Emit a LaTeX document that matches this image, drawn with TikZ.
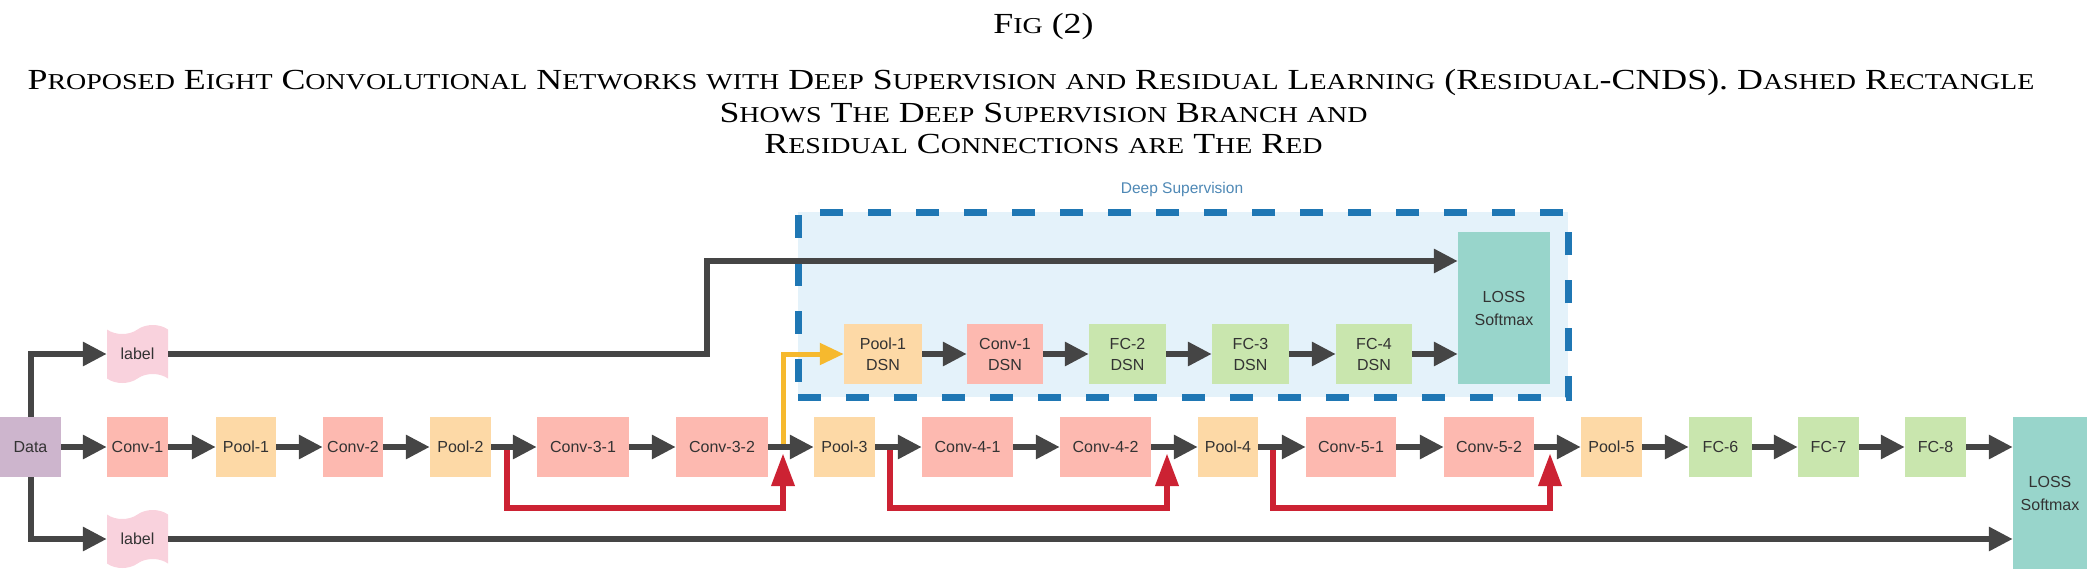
\documentclass[tikz,border=0pt]{standalone}
\usepackage{graphicx}
\usepackage{fontspec}
\setmainfont{Liberation Serif}
\setsansfont{Liberation Sans}
\newfontfamily\titlesc{Liberation Serif}[Scale=0.78]
\usetikzlibrary{arrows.meta,shapes.symbols}
\newcommand\scx[1]{{\titlesc #1}}
\newcommand\ttlbox[1]{\scalebox{1.28}[1.04]{#1}}
\definecolor{convc}{HTML}{FDB9B0}
\definecolor{poolc}{HTML}{FDD9A6}
\definecolor{fcc}{HTML}{C9E6AE}
\definecolor{lossc}{HTML}{98D5CB}
\definecolor{datac}{HTML}{CDB5CD}
\definecolor{labelc}{HTML}{F9D2DD}
\definecolor{dsfill}{HTML}{E4F2FA}
\definecolor{dsdash}{HTML}{1F77B4}
\definecolor{arrgray}{HTML}{454545}
\definecolor{resred}{HTML}{CC2233}
\definecolor{yelc}{HTML}{F6B92E}
\definecolor{dstext}{HTML}{4E88B5}
\definecolor{txt}{HTML}{333333}
\begin{document}
\begin{tikzpicture}[x=1pt,y=-1pt,
  box/.style={inner sep=0pt, minimum height=60pt, font=\sffamily\fontsize{16}{21}\selectfont, text=txt, align=center},
  conv/.style={box, fill=convc},
  pool/.style={box, fill=poolc},
  fc/.style={box, fill=fcc},
  loss/.style={box, fill=lossc, minimum height=152pt, font=\sffamily\fontsize{16}{23}\selectfont},
  lab/.style={tape, fill=labelc, draw=none, inner sep=0pt, minimum width=61pt, minimum height=58pt, tape bend height=9pt, font=\sffamily\fontsize{16}{21}\selectfont, text=txt},
  arr/.style={draw=arrgray, line width=6pt, -{Triangle[length=24pt,width=23pt]}},
  res/.style={draw=resred, line width=6.5pt, -{Triangle[length=33pt,width=22pt]}},
  yel/.style={draw=yelc, line width=5pt, -{Triangle[length=24pt,width=21pt]}},
  ttl/.style={inner sep=0pt, font=\fontsize{28}{30}\selectfont, text=black},
  dsbox/.style={fill=dsfill, draw=dsdash, line width=7pt, dash pattern=on 23pt off 25pt, inner sep=0pt}
]
\useasboundingbox (0,0) rectangle (2087,579);

% title
\node[ttl] (t0) at (1043.5,26) {\ttlbox{F\scx{IG} (2)}};
\node[ttl] (t1) at (1031,82) {\ttlbox{P\scx{ROPOSED} E\scx{IGHT} C\scx{ONVOLUTIONAL} N\scx{ETWORKS} \scx{WITH} D\scx{EEP} S\scx{UPERVISION} \scx{AND} R\scx{ESIDUAL} L\scx{EARNING} (R\scx{ESIDUAL}-CNDS). D\scx{ASHED} R\scx{ECTANGLE}}};
\node[ttl] (t2) at (1043.5,113) {\ttlbox{S\scx{HOWS} T\scx{HE} D\scx{EEP} S\scx{UPERVISION} B\scx{RANCH} \scx{AND}}};
\node[ttl] (t3) at (1043.5,144) {\ttlbox{R\scx{ESIDUAL} C\scx{ONNECTIONS} \scx{ARE} T\scx{HE} R\scx{ED}}};

% deep supervision box
\node[dsbox, minimum width=770pt, minimum height=185pt] (ds) at (1183,304.5) {};
\node[font=\sffamily\fontsize{15.5}{18}\selectfont, text=dstext, inner sep=0pt] (dst) at (1182,189) {Deep Supervision};

% main row
\node[box, fill=datac, minimum width=61pt] (data) at (30.5,447) {Data};
\node[conv, minimum width=61pt] (c1) at (137.5,447) {Conv-1};
\node[pool, minimum width=60pt] (p1) at (246,447) {Pool-1};
\node[conv, minimum width=60pt] (c2) at (353,447) {Conv-2};
\node[pool, minimum width=61pt] (p2) at (460.5,447) {Pool-2};
\node[conv, minimum width=92pt] (c31) at (583,447) {Conv-3-1};
\node[conv, minimum width=92pt] (c32) at (722,447) {Conv-3-2};
\node[pool, minimum width=61pt] (p3) at (844.5,447) {Pool-3};
\node[conv, minimum width=91pt] (c41) at (967.5,447) {Conv-4-1};
\node[conv, minimum width=91pt] (c42) at (1105.5,447) {Conv-4-2};
\node[pool, minimum width=60pt] (p4) at (1228,447) {Pool-4};
\node[conv, minimum width=90pt] (c51) at (1351,447) {Conv-5-1};
\node[conv, minimum width=90pt] (c52) at (1489,447) {Conv-5-2};
\node[pool, minimum width=61pt] (p5) at (1611.5,447) {Pool-5};
\node[fc, minimum width=63pt] (f6) at (1720.5,447) {FC-6};
\node[fc, minimum width=61pt] (f7) at (1828.5,447) {FC-7};
\node[fc, minimum width=61pt] (f8) at (1935.5,447) {FC-8};
\node[loss, minimum width=74pt] (loss) at (2050,493) {LOSS\\Softmax};

% labels
\node[lab] (ltop) at (137.5,354) {label};
\node[lab] (lbot) at (137.5,539) {label};

% DSN row
\node[pool, minimum width=78pt] (p1d) at (883,354) {Pool-1\\DSN};
\node[conv, minimum width=76pt] (c1d) at (1005,354) {Conv-1\\DSN};
\node[fc, minimum width=77pt] (f2d) at (1127.5,354) {FC-2\\DSN};
\node[fc, minimum width=77pt] (f3d) at (1250.5,354) {FC-3\\DSN};
\node[fc, minimum width=76pt] (f4d) at (1374,354) {FC-4\\DSN};
\node[loss, minimum width=92pt] (lossd) at (1504,308) {LOSS\\Softmax};

% coordinates
\coordinate (k) at (707,261);
\coordinate (ys) at (783,447);
\coordinate (rb) at (0,508);
\coordinate (r1s) at (507,447);
\coordinate (r1e) at (783,453);
\coordinate (r2s) at (890,447);
\coordinate (r2e) at (1167,453);
\coordinate (r3s) at (1273,447);
\coordinate (r3e) at (1550,453);

% residual & yellow
\draw[res] (r1s) |- (r1e |- rb) -- (r1e);
\draw[res] (r2s) |- (r2e |- rb) -- (r2e);
\draw[res] (r3s) |- (r3e |- rb) -- (r3e);
\draw[yel] (ys) |- (p1d.west);

% main connectors
\foreach \a/\b in {data/c1,c1/p1,p1/c2,c2/p2,p2/c31,c31/c32,c32/p3,p3/c41,c41/c42,c42/p4,p4/c51,c51/c52,c52/p5,p5/f6,f6/f7,f7/f8}
  \draw[arr] (\a) -- (\b);
\draw[arr] (f8.east) -- (f8.east -| loss.west);

% label connectors
\draw[arr] (data.north) |- (ltop.west);
\draw[arr] (data.south) |- (lbot.west);
\draw[arr] (ltop.east) -| (k) -- (k -| lossd.west);
\draw[arr] (lbot.east) -- (lbot.east -| loss.west);

% DSN connectors
\foreach \a/\b in {p1d/c1d,c1d/f2d,f2d/f3d,f3d/f4d}
  \draw[arr] (\a) -- (\b);
\draw[arr] (f4d.east) -- (f4d.east -| lossd.west);
\end{tikzpicture}
\end{document}
